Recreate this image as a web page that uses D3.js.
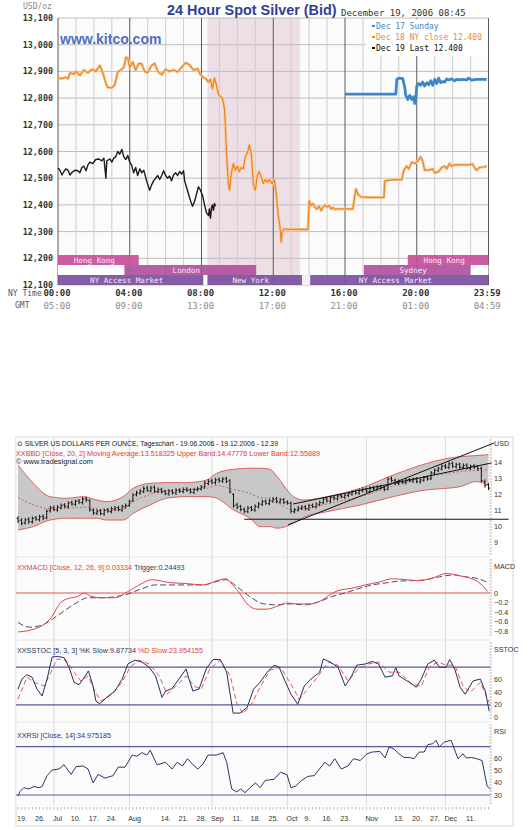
<!DOCTYPE html>
<html><head><meta charset="utf-8">
<script src="https://cdn.jsdelivr.net/npm/d3@7"></script>
<style>body{margin:0;background:#fff}svg{display:block}</style>
</head><body>
<svg id="c" width="530" height="830"></svg>
<script>
// ================= TOP CHART DATA (kitco 24h spot silver) =================
const spotTitle = "24 Hour Spot Silver (Bid)";
const spotDate = "December 19, 2006 08:45";
const priceTicks = [12100,12200,12300,12400,12500,12600,12700,12800,12900,13000,13100];
const timeTickHours = [0,4,8,12,16,20,23.983];
const nyTimeLabels = ["00:00","04:00","08:00","12:00","16:00","20:00","23:59"];
const gmtLabels = ["05:00","09:00","13:00","17:00","21:00","01:00","04:59"];
const legendLabels = ["Dec 17 Sunday","Dec 18 NY close 12.400","Dec 19 Last 12.400"];
const nySession = [8.33, 13.5];
// [hour, price]
const dec17 = [[16,12815],[18.83,12815],[18.89,12870],[19.0,12875],[19.22,12873],[19.33,12840],[19.39,12810],[19.5,12795],[19.61,12810],[19.72,12795],[19.83,12805],[19.89,12780],[19.94,12790],[20.0,12845],[20.11,12855],[20.22,12848],[20.33,12860],[20.44,12845],[20.56,12858],[20.67,12850],[20.78,12865],[20.89,12848],[21.0,12870],[21.11,12855],[21.22,12875],[21.33,12858],[21.44,12862],[21.56,12860],[21.67,12872],[21.78,12868],[21.94,12872],[22.11,12865],[22.22,12870],[22.39,12868],[22.56,12870],[22.78,12868],[22.89,12875],[23.06,12867],[23.33,12870],[23.9,12870]];
const dec18 = [[0,12875],[0.22,12873],[0.44,12878],[0.56,12872],[0.67,12895],[0.89,12890],[1.0,12900],[1.22,12885],[1.44,12905],[1.67,12895],[1.89,12908],[2.11,12900],[2.33,12922],[2.5,12895],[2.67,12855],[2.78,12840],[3.0,12838],[3.17,12850],[3.33,12898],[3.5,12905],[3.67,12915],[3.78,12952],[3.89,12950],[4.0,12915],[4.17,12935],[4.33,12905],[4.5,12930],[4.67,12928],[4.83,12900],[4.99,12895],[5.22,12922],[5.39,12930],[5.56,12900],[5.78,12888],[6.0,12908],[6.22,12900],[6.44,12905],[6.67,12898],[6.89,12915],[7.11,12932],[7.33,12925],[7.56,12905],[7.78,12910],[7.94,12888],[8.11,12878],[8.28,12870],[8.39,12860],[8.5,12870],[8.61,12835],[8.72,12875],[8.83,12850],[8.94,12815],[9.06,12805],[9.17,12800],[9.28,12760],[9.33,12700],[9.39,12600],[9.5,12480],[9.56,12455],[9.67,12520],[9.78,12555],[9.89,12530],[10.0,12545],[10.11,12525],[10.22,12540],[10.33,12535],[10.44,12580],[10.56,12595],[10.67,12625],[10.78,12590],[10.89,12475],[11.0,12455],[11.11,12510],[11.22,12525],[11.33,12505],[11.44,12480],[11.56,12495],[11.67,12485],[11.78,12495],[11.94,12480],[12.06,12495],[12.17,12440],[12.28,12360],[12.39,12310],[12.44,12260],[12.5,12300],[12.61,12310],[12.89,12308],[13.44,12308],[13.94,12308],[14.0,12415],[14.11,12398],[14.22,12405],[14.33,12390],[14.44,12385],[14.56,12395],[14.67,12378],[14.78,12392],[14.89,12400],[15.0,12392],[15.11,12398],[15.22,12385],[15.33,12390],[15.44,12383],[15.56,12385],[16.22,12385],[16.44,12385],[16.56,12440],[16.61,12460],[16.72,12440],[16.89,12430],[17.33,12428],[18.17,12428],[18.22,12490],[18.72,12495],[19.17,12495],[19.28,12530],[19.44,12545],[19.56,12535],[19.72,12560],[19.89,12555],[20.06,12565],[20.22,12580],[20.33,12565],[20.44,12530],[20.67,12530],[20.89,12535],[21.0,12520],[21.22,12525],[21.39,12540],[21.56,12545],[21.67,12535],[21.83,12555],[21.94,12545],[22.11,12550],[22.33,12550],[22.89,12550],[23.11,12553],[23.22,12540],[23.33,12530],[23.5,12540],[23.72,12542],[23.9,12545]];
const dec19 = [[0,12538],[0.11,12530],[0.22,12512],[0.33,12525],[0.44,12535],[0.56,12530],[0.67,12512],[0.78,12522],[0.94,12530],[1.11,12528],[1.22,12520],[1.33,12540],[1.44,12545],[1.56,12528],[1.67,12550],[1.78,12560],[1.94,12555],[2.11,12570],[2.28,12572],[2.44,12565],[2.56,12575],[2.67,12500],[2.72,12565],[2.89,12572],[3.0,12560],[3.11,12575],[3.22,12580],[3.33,12600],[3.44,12590],[3.56,12608],[3.67,12580],[3.78,12570],[3.89,12585],[4.0,12560],[4.11,12548],[4.22,12520],[4.33,12540],[4.44,12510],[4.56,12535],[4.67,12520],[4.78,12530],[4.94,12490],[5.11,12455],[5.22,12475],[5.33,12490],[5.44,12500],[5.56,12510],[5.67,12495],[5.78,12510],[5.89,12528],[6.0,12510],[6.11,12500],[6.22,12508],[6.33,12490],[6.44,12512],[6.56,12520],[6.67,12510],[6.78,12525],[6.89,12515],[7.0,12528],[7.06,12490],[7.17,12465],[7.28,12440],[7.39,12415],[7.5,12395],[7.61,12412],[7.72,12440],[7.83,12468],[7.94,12455],[8.06,12435],[8.17,12400],[8.28,12370],[8.39,12360],[8.44,12385],[8.5,12350],[8.56,12390],[8.61,12400],[8.67,12380],[8.72,12405],[8.78,12395]];
const marketNames = ["Hong Kong","London","NY Access Market","New York","NY Access Market","Sydney","Hong Kong"];
const marketRow   = [0,1,2,2,2,1,0];
const marketStart = [0,3.7,0,8.33,14.06,17.05,19.5];
const marketEnd   = [4.5,11.05,8.1,13.6,24,23.0,24];

// ================= BOTTOM CHART DATA (tradesignal daily silver) =================
const headerLine1 = "\u2299 SILVER US DOLLARS PER OUNCE, Tageschart - 19.06.2006 - 19.12.2006 - 12.39";
const headerLine2 = "XXBBD [Close, 20, 2] Moving Average:13.518325 Upper Band:14.47776 Lower Band:12.55889";
const headerLine3 = "\u00a9 www.tradesignal.com";
const dayTickIdx = [0,5,10,15,20,25,31,40,45,50,54,60,65,70,75,80,85,90,97,105,110,115,119,125];
const dayTickLabels = ["19.","26.","Jul","10.","17.","24.","Aug","14.","21.","28.","Sep","11.","18.","25.","Oct","9.","16.","23.","Nov","13.","20.","27.","Dec","11."];
const monthIdx = [10,31,54,75,97,119];
const opens = [10.50,10.40,10.22,10.45,10.28,10.55,10.42,10.62,10.55,10.98,11.18,11.02,11.18,11.35,11.22,11.50,11.38,11.60,11.48,11.72,11.60,11.00,10.82,10.98,10.78,11.05,10.92,11.08,11.18,11.02,11.22,11.32,11.60,11.98,12.08,12.18,12.40,12.22,12.45,12.18,12.32,12.18,12.02,12.22,12.08,12.28,12.18,12.32,12.28,12.12,12.28,12.33,12.48,12.68,12.85,12.72,12.92,12.82,12.98,12.85,12.00,11.35,11.25,11.08,10.92,11.18,11.02,11.22,11.38,11.58,11.42,11.58,11.72,11.52,11.68,11.52,11.45,10.92,11.02,11.12,11.22,11.08,11.32,11.22,11.38,11.48,11.72,11.58,11.82,11.72,11.92,11.82,11.93,12.02,12.18,12.08,12.22,12.32,12.18,12.42,12.32,12.48,12.42,12.32,12.98,12.88,12.68,12.82,12.72,12.92,12.82,12.98,12.78,12.88,13.08,12.98,13.32,13.48,13.58,13.78,13.68,13.92,13.72,13.88,13.68,13.82,13.62,13.78,13.72,13.62,12.80,12.60];
const highs = [10.62,10.48,10.50,10.55,10.60,10.62,10.70,10.72,11.02,11.25,11.28,11.30,11.40,11.42,11.55,11.58,11.65,11.68,11.80,11.82,11.68,11.08,11.05,11.05,11.10,11.12,11.20,11.25,11.25,11.32,11.40,11.65,12.05,12.20,12.30,12.48,12.50,12.50,12.52,12.40,12.38,12.25,12.30,12.28,12.35,12.35,12.40,12.42,12.35,12.38,12.45,12.55,12.80,12.92,12.95,13.00,13.02,13.05,13.08,12.92,12.05,11.45,11.32,11.15,11.25,11.25,11.35,11.50,11.65,11.65,11.70,11.80,11.82,11.75,11.75,11.60,11.52,11.12,11.25,11.30,11.30,11.38,11.40,11.48,11.58,11.80,11.80,11.88,11.90,11.98,12.00,12.05,12.12,12.22,12.25,12.32,12.40,12.40,12.48,12.50,12.55,12.58,12.50,13.05,13.08,12.95,12.90,12.90,12.98,13.00,13.02,13.05,12.98,13.12,13.15,13.42,13.58,13.70,13.85,13.88,14.00,14.02,13.95,13.95,13.90,13.90,13.82,13.85,13.80,13.70,12.90,12.68];
const lows = [10.25,10.10,10.15,10.20,10.22,10.38,10.35,10.42,10.48,10.90,10.98,10.95,11.10,11.18,11.15,11.32,11.30,11.42,11.40,11.55,10.95,10.75,10.75,10.72,10.70,10.88,10.85,11.00,10.98,10.95,11.15,11.25,11.55,11.90,12.00,12.10,12.18,12.15,12.12,12.10,12.08,11.98,11.95,12.02,12.00,12.12,12.10,12.18,12.08,12.05,12.22,12.28,12.40,12.60,12.65,12.65,12.75,12.75,12.72,12.10,11.20,11.10,10.98,10.85,10.85,10.98,10.95,11.15,11.30,11.38,11.35,11.50,11.48,11.45,11.42,11.38,10.85,10.85,10.95,11.05,11.02,11.00,11.18,11.15,11.30,11.42,11.52,11.50,11.65,11.65,11.78,11.75,11.85,11.95,12.02,12.00,12.15,12.12,12.10,12.28,12.25,12.32,12.22,12.28,12.78,12.62,12.60,12.68,12.65,12.78,12.75,12.72,12.70,12.82,12.88,12.92,13.25,13.42,13.52,13.62,13.60,13.68,13.65,13.62,13.60,13.58,13.55,13.62,13.50,12.80,12.45,12.30];
const closes = [10.35,10.20,10.40,10.30,10.50,10.45,10.60,10.50,10.95,11.15,11.05,11.20,11.30,11.25,11.45,11.40,11.55,11.50,11.70,11.65,11.05,10.85,10.95,10.80,11.00,10.95,11.10,11.15,11.05,11.25,11.30,11.55,11.95,12.10,12.20,12.35,12.25,12.40,12.20,12.30,12.15,12.05,12.20,12.10,12.25,12.20,12.30,12.25,12.15,12.30,12.35,12.45,12.70,12.80,12.75,12.90,12.85,12.95,12.80,12.15,11.30,11.20,11.05,10.95,11.15,11.05,11.25,11.40,11.55,11.45,11.60,11.70,11.55,11.65,11.50,11.45,10.95,11.05,11.15,11.20,11.10,11.30,11.25,11.40,11.50,11.70,11.60,11.80,11.75,11.90,11.85,11.95,12.05,12.15,12.10,12.25,12.30,12.20,12.40,12.35,12.45,12.40,12.30,12.95,12.85,12.70,12.80,12.75,12.90,12.85,12.95,12.80,12.90,13.05,12.95,13.35,13.50,13.60,13.75,13.70,13.90,13.75,13.85,13.70,13.80,13.65,13.75,13.70,13.60,12.85,12.55,12.39];
// Bollinger [dayIndex, upper, lower]
const bollinger = [[0,13.83,9.78],[4.3,12.69,9.99],[8.9,11.86,10.40],[13.6,11.76,10.51],[18.2,11.86,10.51],[21.9,11.65,10.51],[24.7,11.55,10.40],[29.3,11.86,10.40],[32.1,12.38,10.82],[36.8,12.69,11.34],[41.4,12.73,11.76],[47,12.73,11.86],[52.6,12.90,11.86],[55.3,13.31,11.76],[60,13.56,11.03],[64.6,13.63,10.51],[67.4,13.63,9.99],[70.2,13.56,9.99],[72.1,13.11,9.89],[76.7,11.86,10.20],[79.5,11.65,10.57],[86,11.86,10.92],[95.3,12.38,11.34],[104.5,13.21,11.86],[113.8,13.93,12.28],[119.4,14.24,12.38],[123.1,14.35,12.48],[127.5,14.42,12.80],[131,14.48,12.56]];
const movingAvg = [[0,11.80],[4.3,11.35],[8.9,11.10],[13.6,11.13],[18.2,11.20],[21.9,11.10],[24.7,11.00],[29.3,11.10],[32.1,11.55],[36.8,12.00],[41.4,12.25],[47,12.30],[52.6,12.38],[55.3,12.55],[60,12.30],[64.6,12.07],[67.4,11.80],[70.2,11.78],[72.1,11.50],[76.7,11.03],[79.5,11.10],[86,11.40],[95.3,11.86],[104.5,12.53],[113.8,13.10],[119.4,13.30],[123.1,13.42],[131,13.52]];
const trendLines = [[[75.2,10.10],[132.5,15.20]],[[76.6,11.40],[131.9,13.96]],[[63,10.45],[136.6,10.45]]];
const macdLine = [[0,-0.82],[4.5,-0.76],[6.7,-0.69],[9.2,-0.52],[12,-0.19],[13.9,-0.12],[16.7,-0.07],[18.5,0.0],[20.3,-0.07],[23.1,-0.10],[27,-0.10],[30.6,0.03],[34.5,0.20],[37.3,0.28],[42,0.22],[46.8,0.20],[51.5,0.17],[56.3,0.28],[57.7,0.30],[59.9,0.16],[61.8,-0.02],[63.8,-0.23],[66.6,-0.34],[69.4,-0.34],[72.1,-0.28],[74.9,-0.21],[77.7,-0.23],[81.6,-0.23],[84.4,-0.16],[87.2,-0.02],[89.1,0.05],[93,0.10],[96.7,0.17],[100.6,0.23],[104.2,0.30],[108.1,0.28],[111.7,0.26],[115.6,0.32],[119.2,0.41],[123.1,0.36],[126.7,0.29],[128.7,0.20],[130.8,0.03]];
const macdTrigger = [[0,-0.62],[3.3,-0.72],[7.2,-0.66],[10.9,-0.48],[15.6,-0.24],[19.5,-0.10],[23.1,-0.10],[27,-0.08],[30.6,-0.02],[34.5,0.09],[38.2,0.17],[42,0.17],[47.6,0.17],[51.5,0.17],[55.2,0.24],[57.9,0.28],[61,0.13],[64.6,-0.08],[68.5,-0.23],[72.1,-0.25],[76,-0.23],[79.7,-0.25],[83.6,-0.19],[87.2,-0.08],[91.1,0.0],[94.7,0.09],[98.6,0.17],[102.2,0.21],[106.1,0.25],[109.7,0.26],[113.6,0.28],[117.3,0.34],[121.2,0.38],[124.8,0.34],[128.7,0.29],[130.9,0.21]];
const stochK = [[0,45],[1.1,61],[2.5,68],[3.9,64],[5.3,45],[6.7,34],[8.1,61],[9.5,96],[11,97],[12.8,95],[14.2,80],[15.6,56],[17,52],[18.5,64],[19.6,74],[20.9,50],[21.7,26],[22.8,22],[25.1,34],[27,42],[29,61],[30.6,85],[32.6,91],[34.5,88],[36.5,80],[38.3,66],[40.1,32],[41.1,42],[42.9,46],[44.8,61],[46.8,77],[47.6,61],[48.7,42],[50.4,45],[52.4,77],[54.3,92],[56.3,92],[58.1,72],[59.9,7],[61.8,7],[63.8,16],[65.6,45],[67.4,56],[69.4,72],[71.3,83],[72.7,80],[74.1,61],[76,37],[77.9,21],[79.7,50],[81.6,61],[84,72],[85,93],[86.9,88],[89.1,80],[91.1,50],[92.9,66],[94.3,83],[96.7,85],[98.6,89],[100.4,85],[102.2,64],[104.2,66],[105.2,79],[106.1,66],[108.9,56],[110.9,48],[112.3,61],[114.1,85],[115.9,91],[117.3,80],[119.2,80],[120.2,92],[121.6,77],[123.1,48],[124.5,37],[126.7,58],[128.7,61],[130.1,42],[131.2,10]];
const stochD = [[0,29],[2.5,64],[4.5,56],[7.2,50],[9.2,72],[10.9,93],[13.4,91],[15.6,72],[17.5,58],[19.5,66],[21.4,42],[23.1,26],[26,36],[29,56],[31.2,80],[33.7,91],[36.5,85],[39.3,66],[41.5,37],[44,50],[46.8,66],[49,50],[51,45],[53.4,77],[56.3,91],[59.1,66],[60.9,23],[62.7,6],[65.2,23],[67.4,48],[70.2,75],[73.1,80],[76,53],[78.3,29],[80.7,45],[83.6,66],[86.4,88],[89.1,83],[91.9,58],[94.7,77],[97.6,85],[100.4,88],[103.3,72],[106.1,72],[109.7,53],[112.3,50],[114.5,80],[116.9,88],[119.2,83],[121.6,83],[123.9,50],[125.9,40],[128.7,56],[131.2,24]];
const rsiLine = [[0,29.2],[0.6,33],[1.6,36],[3,35],[4.5,37],[5.8,36],[6.7,37],[8.1,46],[9.5,50.6],[11.4,51.5],[12.8,55],[14.8,47],[16.2,53.5],[18.1,54],[19.5,51.5],[20.9,40],[22.3,47],[24.2,44],[26.5,46],[27.9,53],[29.8,53],[31.8,63],[33.1,62],[34.5,65],[35.9,63],[36.8,67],[38.7,55],[41.1,57],[42.9,51.5],[44.3,57],[45.8,54],[47.2,60],[48.7,55],[50.1,51.5],[51.5,55.6],[52.9,63],[55.2,63],[57.1,65],[58.1,57],[59.5,35],[60.9,32.5],[62,35],[63.2,32],[64.6,36],[66.1,40],[67.4,36],[68.8,42],[71.3,43],[73.1,48.8],[74.9,46.8],[76,36],[77.4,37.5],[78.8,41.7],[80.7,45.4],[82.5,46],[85.4,57],[86.8,54],[88.2,60],[90,51.5],[91.9,54],[93.4,60],[95.3,58.5],[97.1,64],[98.6,65.5],[100.8,66],[102.2,60.6],[103.3,69.7],[104.7,68],[106.1,64],[107.5,61],[108.9,61],[110.3,60],[111.7,65.5],[113.1,65.5],[114.1,71.6],[115.5,72.4],[116.4,75.2],[117.3,69.7],[118.7,73.8],[120.6,75.2],[122.5,60],[123.9,64],[124.8,60.6],[126.3,61],[127.7,60],[129.2,58.5],[130.6,37.5],[131.5,35]];
const mainTicks = [14,13,12,11,10,9];
const macdTicks = [0,-0.2,-0.4,-0.6,-0.8];
const stochTicks = [60,40,20,0];
const stochLevels = [80,20];
const rsiTicks = [60,50,40,30];
const rsiLevels = [70,30];

// ================= DRAW =================
const svg = d3.select("#c");
const mono = "'DejaVu Sans Mono', monospace";
const sans = "'Liberation Sans', Arial, sans-serif";

// ---------- top chart ----------
const xT = d3.scaleLinear().domain([0,24]).range([58,488.5]);
const yT = d3.scaleLinear().domain([12100,13100]).range([285,18]);
const gT = svg.append("g");
gT.append("rect").attr("x",xT(0)).attr("y",yT(13100)).attr("width",xT(24)-xT(0)).attr("height",yT(12100)-yT(13100)).attr("fill","#fbfbfb");
gT.append("rect").attr("x",xT(nySession[0])).attr("y",yT(13100)).attr("width",xT(nySession[1])-xT(nySession[0])).attr("height",yT(12100)-yT(13100)).attr("fill","#eddfe5");
gT.selectAll(".hg").data(priceTicks).join("line").attr("x1",xT(0)).attr("x2",xT(24)).attr("y1",d=>yT(d)).attr("y2",d=>yT(d)).attr("stroke","#bdbdbd").attr("stroke-width",1);
gT.selectAll(".vg").data(d3.range(0,25)).join("line").attr("x1",d=>xT(d)).attr("x2",d=>xT(d)).attr("y1",yT(13100)).attr("y2",yT(12100))
  .attr("stroke",d=>d%4===0?"#5a5a5a":"#cdcdcd").attr("stroke-width",1);
// legend box
gT.append("rect").attr("x",366).attr("y",19).attr("width",121.5).attr("height",37).attr("fill","#fff");
const lineT = d3.line().x(d=>xT(d[0])).y(d=>yT(d[1]));
gT.append("path").attr("d",lineT(dec18)).attr("fill","none").attr("stroke","#f9cc9c").attr("stroke-width",3).attr("stroke-linejoin","round");
gT.append("path").attr("d",lineT(dec18)).attr("fill","none").attr("stroke","#ec8426").attr("stroke-width",1.2).attr("stroke-linejoin","round");
gT.append("path").attr("d",lineT(dec19)).attr("fill","none").attr("stroke","#1a1a1a").attr("stroke-width",1.4).attr("stroke-linejoin","round");
gT.append("path").attr("d",lineT(dec17)).attr("fill","none").attr("stroke","#3e86c8").attr("stroke-width",2.8).attr("stroke-linejoin","round");
// market bars
const mColor = {"Hong Kong":"#c8519b","London":"#b0529f","Sydney":"#b0529f","NY Access Market":"#7b52a2","New York":"#7b52a2"};
const rowY = [255,265,275];
gT.append("rect").attr("x",xT(0)).attr("y",rowY[1]).attr("width",xT(marketStart[1])-xT(0)).attr("height",10).attr("fill","#fff");
gT.append("rect").attr("x",xT(marketEnd[5])).attr("y",rowY[1]).attr("width",xT(24)-xT(marketEnd[5])).attr("height",10).attr("fill","#fff");
gT.append("rect").attr("x",xT(marketEnd[2])).attr("y",rowY[2]).attr("width",xT(marketStart[3])-xT(marketEnd[2])).attr("height",10).attr("fill","#fff");
gT.append("rect").attr("x",xT(marketEnd[3])).attr("y",rowY[2]).attr("width",xT(marketStart[4])-xT(marketEnd[3])).attr("height",10).attr("fill","#f4f0f4");
const mk = gT.selectAll(".mk").data(marketNames.map((n,i)=>({n,i}))).join("g");
mk.append("rect").attr("x",d=>xT(marketStart[d.i])).attr("y",d=>rowY[marketRow[d.i]]).attr("width",d=>xT(marketEnd[d.i])-xT(marketStart[d.i])).attr("height",10)
  .attr("fill",d=>mColor[d.n]).attr("opacity",0.93);
mk.append("text").attr("x",d=>(xT(marketStart[d.i])+xT(marketEnd[d.i]))/2-4).attr("y",d=>rowY[marketRow[d.i]]+8)
  .attr("text-anchor","middle").attr("font-family",mono).attr("font-size",7.6).attr("fill","#f6e8f4").text(d=>d.n);
// axis labels
gT.selectAll(".yl").data(priceTicks).join("text").attr("x",53).attr("y",d=>yT(d)+3).attr("text-anchor","end")
  .attr("font-family",mono).attr("font-size",8.4).attr("font-weight","bold").attr("fill","#333").text(d=>d3.format(",")(d));
gT.selectAll(".xl").data(timeTickHours).join("text").attr("x",d=>xT(d)-1).attr("y",296).attr("text-anchor","middle")
  .attr("font-family",mono).attr("font-size",9).attr("font-weight","bold").attr("fill","#333").text((d,i)=>nyTimeLabels[i]);
gT.selectAll(".gl").data(timeTickHours).join("text").attr("x",d=>xT(d)-1).attr("y",309).attr("text-anchor","middle")
  .attr("font-family",mono).attr("font-size",9).attr("fill","#8a8a8a").text((d,i)=>gmtLabels[i]);
gT.append("text").attr("x",8).attr("y",296).attr("font-family",mono).attr("font-size",8).attr("fill","#555").text("NY Time");
gT.append("text").attr("x",15).attr("y",308).attr("font-family",mono).attr("font-size",8).attr("fill","#555").text("GMT");
gT.append("text").attr("x",23).attr("y",9).attr("font-family",mono).attr("font-size",8).attr("fill","#888").text("USD/oz");
gT.append("text").attr("x",167).attr("y",15).attr("font-family",sans).attr("font-weight","bold").attr("font-size",14.4).attr("fill","#2e3f95").text(spotTitle);
gT.append("text").attr("x",341).attr("y",15.5).attr("font-family",mono).attr("font-size",9).attr("fill","#333").text(spotDate);
gT.append("text").attr("x",60).attr("y",44).attr("font-family",sans).attr("font-weight","bold").attr("font-size",14).attr("fill","#4d70bd").text("www.kitco.com");
const legColors = ["#3e86c8","#ec8a30","#111"];
legendLabels.forEach((t,i)=>{
  gT.append("rect").attr("x",372).attr("y",26+i*11-1).attr("width",3).attr("height",2).attr("fill",legColors[i]);
  gT.append("text").attr("x",376).attr("y",29+i*11).attr("font-family",mono).attr("font-size",8).attr("fill",legColors[i]).text(t);
});

// ---------- bottom chart ----------
const xB = d3.scaleLinear().domain([0,131]).range([18,488.5]);
const yMain = d3.scaleLinear().domain([9,14]).range([542.5,462.3]);
const yMacd = d3.scaleLinear().domain([-0.8,0]).range([631,593]);
const yStoch = d3.scaleLinear().domain([0,100]).range([717.5,654.5]);
const yRsi = d3.scaleLinear().domain([30,70]).range([795,746.6]);
const gB = svg.append("g");
gB.append("rect").attr("x",16).attr("y",437).attr("width",497).attr("height",389).attr("fill","#fff").attr("stroke","#d6d6d6");
const plotR = 490.5;
gB.append("rect").attr("x",16.5).attr("y",437.5).attr("width",plotR-16.5).attr("height",369).attr("fill","#fbfbfb");
[557,640,722].forEach(y=>gB.append("line").attr("x1",16).attr("x2",plotR).attr("y1",y).attr("y2",y).attr("stroke","#e6e6e6"));
gB.selectAll(".mg").data(monthIdx).join("line").attr("x1",d=>xB(d)).attr("x2",d=>xB(d)).attr("y1",437).attr("y2",806).attr("stroke","#d9d9d9");
// bollinger
const area = d3.area().x(d=>xB(d[0])).y0(d=>yMain(d[2])).y1(d=>yMain(d[1])).curve(d3.curveMonotoneX);
gB.append("path").attr("d",area(bollinger)).attr("fill","#c8c8c8");
const lineU = d3.line().x(d=>xB(d[0])).y(d=>yMain(d[1])).curve(d3.curveMonotoneX);
const lineL = d3.line().x(d=>xB(d[0])).y(d=>yMain(d[2])).curve(d3.curveMonotoneX);
gB.append("path").attr("d",lineU(bollinger)).attr("fill","none").attr("stroke","#d9534f").attr("stroke-width",0.9);
gB.append("path").attr("d",lineL(bollinger)).attr("fill","none").attr("stroke","#d9534f").attr("stroke-width",0.9);
gB.append("path").attr("d",d3.line().x(d=>xB(d[0])).y(d=>yMain(d[1])).curve(d3.curveMonotoneX)(movingAvg)).attr("fill","none").attr("stroke","#d9534f").attr("stroke-width",0.9).attr("stroke-dasharray","2,2");
// OHLC bars
const cg = gB.append("g").attr("stroke","#151515").attr("stroke-width",1);
closes.forEach((c,i)=>{
  const x = xB(i);
  cg.append("line").attr("x1",x).attr("x2",x).attr("y1",yMain(highs[i])-0.5).attr("y2",yMain(lows[i])+0.5);
  cg.append("line").attr("x1",x-1.4).attr("x2",x).attr("y1",yMain(opens[i])).attr("y2",yMain(opens[i]));
  cg.append("line").attr("x1",x).attr("x2",x+1.4).attr("y1",yMain(c)).attr("y2",yMain(c));
});
trendLines.forEach(t=>gB.append("line").attr("x1",xB(t[0][0])).attr("y1",yMain(t[0][1])).attr("x2",xB(t[1][0])).attr("y2",yMain(t[1][1])).attr("stroke","#111").attr("stroke-width",1));
// macd
gB.append("line").attr("x1",16).attr("x2",plotR).attr("y1",yMacd(0)).attr("y2",yMacd(0)).attr("stroke","#e05050").attr("stroke-width",1);
const lM = d3.line().x(d=>xB(d[0])).y(d=>yMacd(d[1])).curve(d3.curveMonotoneX);
gB.append("path").attr("d",lM(macdTrigger)).attr("fill","none").attr("stroke","#333a5c").attr("stroke-width",0.9).attr("stroke-dasharray","6,3");
gB.append("path").attr("d",lM(macdLine)).attr("fill","none").attr("stroke","#e04848").attr("stroke-width",1);
// stoch
stochLevels.forEach(v=>gB.append("line").attr("x1",16).attr("x2",plotR).attr("y1",yStoch(v)).attr("y2",yStoch(v)).attr("stroke","#5a5a9a").attr("stroke-width",1.2));
const lS = d3.line().x(d=>xB(d[0])).y(d=>yStoch(d[1]));
gB.append("path").attr("d",lS(stochD)).attr("fill","none").attr("stroke","#e04848").attr("stroke-width",0.9).attr("stroke-dasharray","5,3");
gB.append("path").attr("d",lS(stochK)).attr("fill","none").attr("stroke","#2a2f5e").attr("stroke-width",1);
// rsi
rsiLevels.forEach(v=>gB.append("line").attr("x1",16).attr("x2",plotR).attr("y1",yRsi(v)).attr("y2",yRsi(v)).attr("stroke","#5a5a9a").attr("stroke-width",1.2));
gB.append("path").attr("d",d3.line().x(d=>xB(d[0])).y(d=>yRsi(d[1]))(rsiLine)).attr("fill","none").attr("stroke","#2f3566").attr("stroke-width",1);
// right axes minor ticks
[[440,556],[560,638],[643,721],[725,805]].forEach(r=>{
  gB.selectAll(null).data(d3.range(r[0],r[1],3)).join("line").attr("x1",plotR-1).attr("x2",plotR+1.5).attr("y1",d=>d).attr("y2",d=>d).attr("stroke","#9a9a9a").attr("stroke-width",0.7);
});
const axTxt = (y,t,col)=>gB.append("text").attr("x",494).attr("y",y+2.5).attr("font-family",sans).attr("font-size",7.2).attr("fill",col||"#333").text(t);
mainTicks.forEach(v=>axTxt(yMain(v),v));
axTxt(443,"USD");
macdTicks.forEach(v=>axTxt(yMacd(v),v===0?"0":d3.format(".1f")(v)));
axTxt(566,"MACD");
stochTicks.forEach(v=>axTxt(yStoch(v),v));
axTxt(649,"SSTOC");
rsiTicks.forEach(v=>axTxt(yRsi(v),v));
axTxt(731,"RSI");
// bottom ticks
gB.selectAll(".dt").data(d3.range(0,132)).join("line").attr("x1",d=>xB(d)).attr("x2",d=>xB(d)).attr("y1",807).attr("y2",809.5).attr("stroke","#999").attr("stroke-width",0.7);
gB.selectAll(".dl").data(dayTickIdx).join("text").attr("x",d=>xB(d)-1).attr("y",821).attr("font-family",sans).attr("font-size",7.2).attr("fill","#333").text((d,i)=>dayTickLabels[i]);
// header texts
gB.append("text").attr("x",17).attr("y",446).attr("font-family",sans).attr("font-size",7.2).attr("fill","#222").attr("textLength",261).attr("lengthAdjust","spacingAndGlyphs").text(headerLine1);
gB.append("text").attr("x",16).attr("y",455.5).attr("font-family",sans).attr("font-size",7.2).attr("fill","#e04040").attr("textLength",304).attr("lengthAdjust","spacingAndGlyphs").text(headerLine2);
gB.append("text").attr("x",16).attr("y",464).attr("font-family",sans).attr("font-size",7.2).attr("fill","#222").attr("textLength",77).attr("lengthAdjust","spacingAndGlyphs").text(headerLine3);
const t1 = gB.append("text").attr("x",17).attr("y",569.5).attr("font-family",sans).attr("font-size",7.2);
t1.append("tspan").attr("fill","#e04040").text("XXMACD [Close, 12, 26, 9]:0.03334");
t1.append("tspan").attr("fill","#2f3566").text(" Trigger:0.24493");
const t2 = gB.append("text").attr("x",17).attr("y",652.5).attr("font-family",sans).attr("font-size",7.2);
t2.append("tspan").attr("fill","#2f3566").text("XXSSTOC [5, 3, 3] %K Slow:9.87734 ");
t2.append("tspan").attr("fill","#e04040").text("%D Slow:23.954155");
gB.append("text").attr("x",17).attr("y",737.5).attr("font-family",sans).attr("font-size",7.2).attr("fill","#2f3566").text("XXRSI [Close, 14]:34.975185");
</script>
</body></html>
